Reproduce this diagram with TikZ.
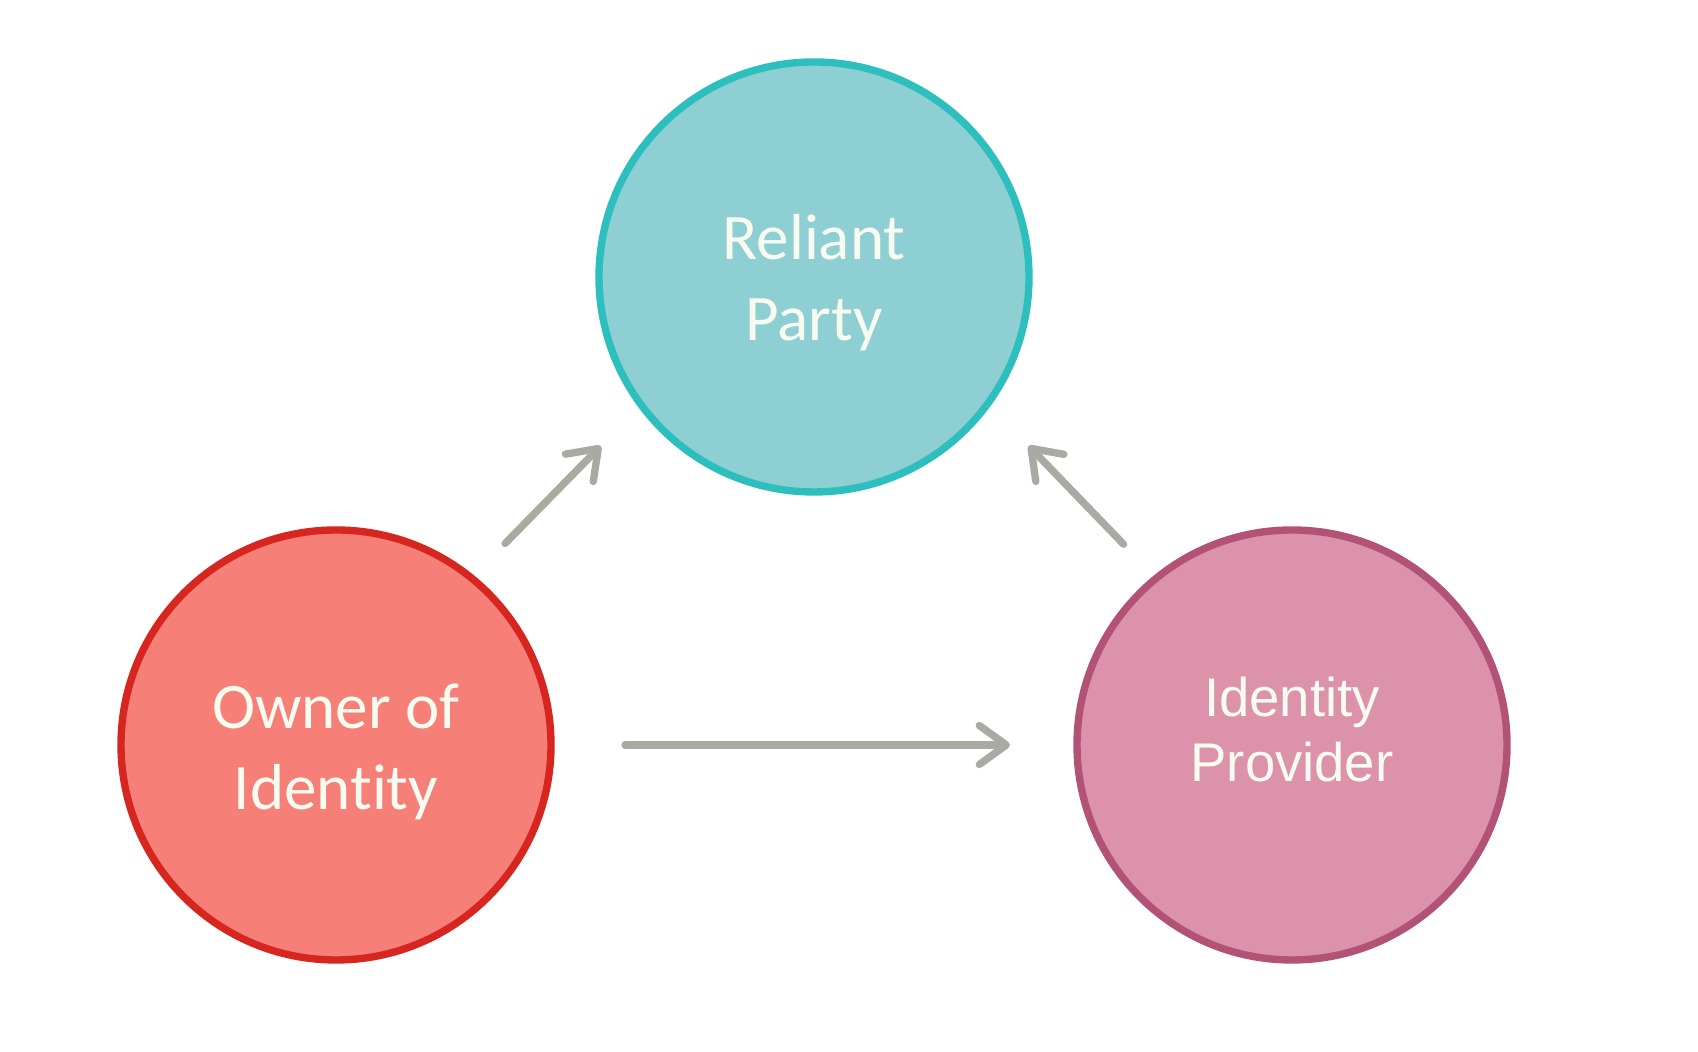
\documentclass[tikz,border=0pt]{standalone}
\usepackage{fontspec}
\setmainfont{Carlito}[Ligatures={NoCommon,NoDiscretionary,NoRare}]
\newfontfamily\arialfont{Liberation Sans}
\usepackage{xcolor}
\usepackage{tikz}
\usetikzlibrary{arrows.meta,positioning,calc}
\definecolor{relfill}{HTML}{8ECFD3}
\definecolor{reldraw}{HTML}{2DBFBE}
\definecolor{ownfill}{HTML}{F67F77}
\definecolor{owndraw}{HTML}{D6261F}
\definecolor{provfill}{HTML}{DB92AA}
\definecolor{provdraw}{HTML}{B25276}
\definecolor{flowgray}{HTML}{A9ABA2}
\definecolor{txtwhite}{HTML}{F8FBF0}

\begin{document}
\begin{tikzpicture}[
  party/.style={circle, line width=2.1pt, minimum size=4.3cm, inner sep=0pt},
  caption/.style={align=center, text=txtwhite, font=\fontsize{18.5}{23}\selectfont},
  flow/.style={-{Straight Barb[length=2.7mm, width=3.9mm, round]}, line width=2.1pt, line cap=round, flowgray},
]
  \useasboundingbox (0,0) rectangle (16.98,10.52);

  \node[party, draw=reldraw, fill=relfill] (rel) at (8.14,7.75) {};
  \node[party, draw=owndraw, fill=ownfill] (own) at (3.36,3.07) {};
  \node[party, draw=provdraw, fill=provfill] (prov) at (12.92,3.07) {};

  \node[caption] (reltxt) at ([yshift=-0.6mm]rel.center) {Reliant\\Party};
  \node[caption] (owntxt) at ([yshift=-0.7mm]own.center) {Owner of\\Identity};
  \node[caption, font=\arialfont\fontsize{15.5}{18.5}\selectfont] (provtxt) at ([yshift=1.55mm]prov.center) {Identity\\Provider};

  \draw[flow] ($(own)+(50:2.63)$) -- ($(rel)+(218.4:2.72)$);
  \draw[flow] ($(prov)+(130:2.62)$) -- ($(rel)+(321.8:2.73)$);
  \draw[flow] ($(own)+(0:2.89)$) -- ($(prov)+(180:2.82)$);
\end{tikzpicture}
\end{document}
